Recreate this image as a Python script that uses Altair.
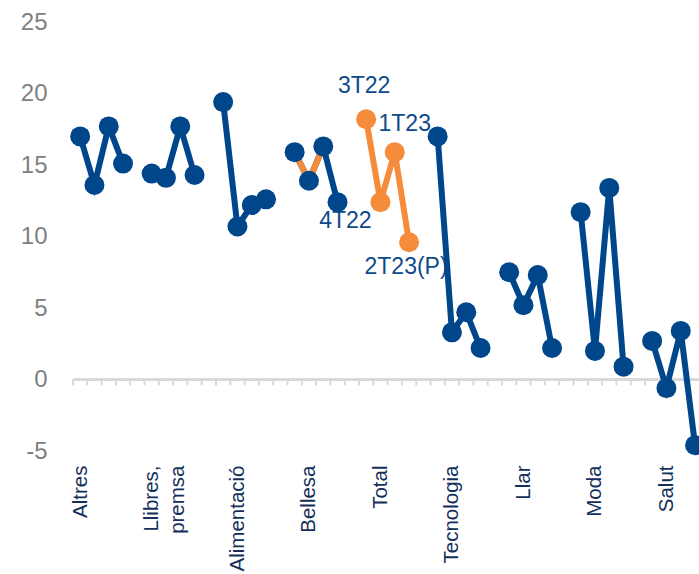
import json
import altair as alt
import pandas as pd

# Year-on-year change by sector, four quarters per sector
categories = ["Altres", "Llibres, premsa", "Alimentació", "Bellesa", "Total",
              "Tecnologia", "Llar", "Moda", "Salut"]
quarters = ["3T22", "4T22", "1T23", "2T23(P)"]

altres = [17.0, 13.6, 17.7, 15.1]
llibres = [14.4, 14.1, 17.7, 14.3]
alimentacio = [19.4, 10.7, 12.2, 12.6]
bellesa = [15.9, 13.9, 16.3, 12.4]
total = [18.2, 12.4, 15.9, 9.6]
tecnologia = [17.0, 3.3, 4.7, 2.2]
llar = [7.5, 5.2, 7.3, 2.2]
moda = [11.7, 2.0, 13.4, 0.9]
salut = [2.7, -0.6, 3.4, -4.6]

series_values = [altres, llibres, alimentacio, bellesa, total,
                 tecnologia, llar, moda, salut]

# where each sector name sits on the category axis (slot index)
label_slots = [0, 5, 11, 16, 21, 26, 31, 36, 41]
axis_labels = ["Altres", ["Llibres,", "premsa"], "Alimentació", "Bellesa", "Total",
               "Tecnologia", "Llar", "Moda", "Salut"]

highlight = "Total"
# the orange trace also runs over the first quarters of this sector
orange_trace = {"Bellesa": 3}

SLOTS = 5  # four quarters plus one empty slot between sectors

BLUE = "#00468A"
ORANGE = "#F58C3C"
LABEL_BLUE = "#0D4A8B"
NAVY = "#14305A"
GREY = "#808080"
AXIS_GREY = "#D9D9D9"
FONT = "Liberation Sans"

rows = []
for ci, (cat, vals) in enumerate(zip(categories, series_values)):
    for qi, v in enumerate(vals):
        rows.append({"category": cat, "quarter": quarters[qi],
                     "slot": ci * SLOTS + qi, "value": v})
df = pd.DataFrame(rows)

blue_df = df[df.category != highlight]
orange_df = df[df.category == highlight]
trace_parts = [orange_df]
for cat, n in orange_trace.items():
    part = df[df.category == cat].iloc[:n]
    trace_parts.append(part)
orange_line_df = pd.concat(trace_parts)

n_slots = len(categories) * SLOTS
tick_df = pd.DataFrame({"slot": [i - 0.5 for i in range(n_slots + 1)]})

PX = 14.3
W, H = 626, 429
xs = alt.Scale(domain=[-0.5, -0.5 + W / PX], nice=False, zero=False)
ys = alt.Scale(domain=[-5, 25], nice=False, zero=False)

label_expr = "{}[indexof({}, datum.value)]".format(
    json.dumps(axis_labels, ensure_ascii=False), json.dumps(label_slots))

x_axis = alt.Axis(values=label_slots, labelExpr=label_expr, title=None,
                  domain=False, ticks=False, grid=False, labelAngle=270,
                  labelAlign="right", labelBaseline="middle", labelPadding=14,
                  labelFontSize=20.5, labelColor=NAVY, labelFont=FONT,
                  labelLineHeight=26, labelOverlap=False, labelBound=False,
                  labelFlush=False)
y_axis = alt.Axis(values=list(range(-5, 30, 5)), title=None, domain=False,
                  ticks=False, grid=False, labelPadding=26, labelFontSize=24,
                  labelColor=GREY, labelFont=FONT,
                  labelExpr="replace(datum.label, '\u2212', '-')")

X = alt.X("slot:Q", scale=xs, axis=x_axis)
Y = alt.Y("value:Q", scale=ys, axis=y_axis)

zero_line = alt.Chart(df).mark_rule(color=AXIS_GREY, strokeWidth=2).encode(
    y=alt.datum(0, scale=ys), x=alt.value(0), x2=alt.value(W + 10))

ticks = alt.Chart(tick_df).mark_rule(color=AXIS_GREY, strokeWidth=2).encode(
    x=X, y=alt.datum(0, scale=ys), y2=alt.datum(-0.42))

blue_lines = alt.Chart(blue_df).mark_line(color=BLUE, strokeWidth=6).encode(
    x=X, y=Y, detail="category:N", order="slot:Q")
orange_lines = alt.Chart(orange_line_df).mark_line(color=ORANGE, strokeWidth=6).encode(
    x=X, y=Y, detail="category:N", order="slot:Q")
blue_pts = alt.Chart(blue_df).mark_circle(color=BLUE, size=400, opacity=1).encode(x=X, y=Y)
orange_pts = alt.Chart(orange_df).mark_circle(color=ORANGE, size=400, opacity=1).encode(x=X, y=Y)

# quarter labels around the highlighted sector's points
offsets = {"3T22": (-2, -33), "4T22": (-35, 19), "1T23": (10, -28), "2T23(P)": (-3, 25)}
labels = []
for q, (dx, dy) in offsets.items():
    labels.append(
        alt.Chart(orange_df[orange_df.quarter == q]).mark_text(
            dx=dx, dy=dy, fontSize=23, font=FONT, color=LABEL_BLUE,
            align="center", baseline="middle").encode(x=X, y=Y, text="quarter:N"))

chart = alt.layer(zero_line, ticks, *labels, blue_lines, orange_lines, blue_pts, orange_pts).properties(
    width=W, height=H,
    autosize=alt.AutoSizeParams(type="none"),
    padding={"left": 73, "top": 22, "right": 0, "bottom": 574 - 22 - H},
).configure(background="white").configure_view(stroke=None)

chart.save("out.html", embed_options={"renderer": "svg", "actions": False})
